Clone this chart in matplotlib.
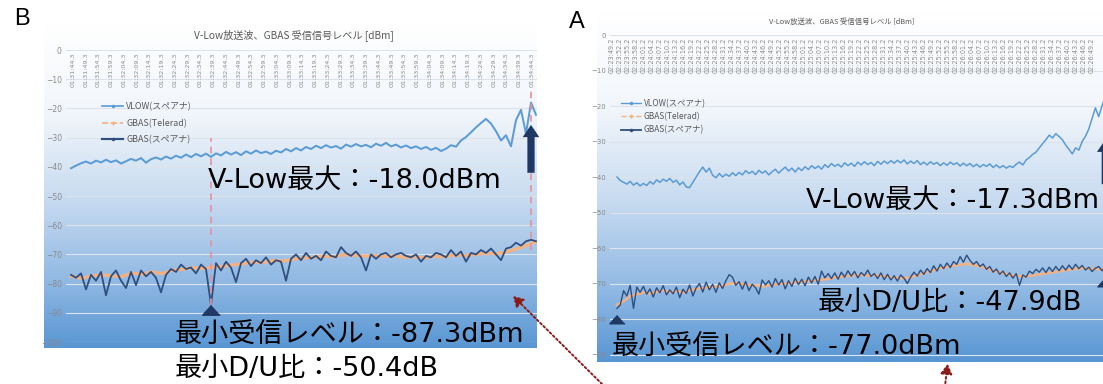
import matplotlib
matplotlib.use("Agg")
import matplotlib.pyplot as plt
import numpy as np
from matplotlib.colors import LinearSegmentedColormap
from matplotlib.lines import Line2D
from matplotlib.transforms import offset_copy

W, H = 1103, 384
JP = ["Noto Sans CJK JP", "DejaVu Sans"]
BIG = ["DejaVu Sans", "Noto Sans CJK JP"]

TITLE = "V-Low放送波、GBAS 受信信号レベル [dBm]"
SERIES_NAMES = ["VLOW(スペアナ)", "GBAS(Telerad)", "GBAS(スペアナ)"]

# ---- panel B (left) ----
b_vlow = [-40.5, -39.6, -38.8, -38.2, -38.9, -37.9, -38.5, -37.6, -38.4, -37.8,
          -38.9, -38.1, -37.3, -37.9, -37.0, -38.6, -37.4, -36.8, -37.5, -36.5,
          -37.2, -36.2, -36.9, -35.8, -36.7, -35.6, -36.4, -35.5, -36.6, -35.4,
          -36.1, -34.9, -35.8, -35.0, -36.0, -34.7, -35.5, -34.4, -35.3, -34.8,
          -35.6, -34.5, -35.1, -33.9, -34.7, -33.6, -34.4, -33.2, -33.9, -32.8,
          -33.6, -32.6, -33.4, -32.9, -33.8, -32.4, -33.1, -32.2, -33.0, -32.5,
          -33.3, -32.1, -32.8, -31.8, -33.0, -32.4, -33.4, -32.7, -33.6, -33.0,
          -33.9, -33.2, -34.2, -33.5, -34.6, -33.8, -32.6, -33.1, -31.0, -29.8,
          -28.2, -26.5, -25.0, -23.6, -25.2, -27.8, -31.0, -29.2, -33.0, -24.0,
          -20.5, -28.6, -18.0, -22.2]
b_gbas = [-77, -78, -76.5, -82, -77, -79, -76, -84, -77.5, -75.5,
          -79, -81.5, -76, -80.5, -75.5, -77.5, -76, -78, -83, -77,
          -75, -76, -73.5, -75, -74.5, -76.5, -73.5, -75, -87.3, -73,
          -75.5, -72.5, -74.5, -79.5, -73, -71.5, -74, -72, -73, -71,
          -73.5, -72, -72.5, -79, -71.5, -70, -72, -69.5, -71.5, -70.5,
          -72, -69, -70.5, -71, -67.5, -69.5, -70.5, -69, -71, -75.5,
          -70, -71.5, -70, -69.5, -71, -70, -69.5, -70.5, -71, -70,
          -72.5, -70.5, -71, -69.5, -70, -71, -68.5, -70.5, -69, -72.5,
          -69.5, -70, -68.5, -69.5, -68, -70, -72, -68, -67.5, -66,
          -67, -65.5, -65, -65.5]
b_tele = [-77.5, -78.2, -77.4, -77.0, -77.3, -77.6, -76.4, -76.8, -76.0, -76.6,
          -75.4, -75.1, -74.6, -74.8, -74.4, -74.1, -73.6, -73.2, -72.6, -72.8,
          -72.1, -72.3, -71.6, -71.2, -71.0, -70.6, -70.8, -70.1, -70.3, -70.6,
          -70.4, -70.7, -70.5, -71.0, -70.8, -71.2, -70.6, -70.8, -70.2, -70.4,
          -70.0, -69.6, -69.8, -69.2, -68.2, -67.0, -65.6]
b_times = ["01:31:44.3", "01:31:49.3", "01:31:54.3", "01:31:59.3", "01:32:04.3",
           "01:32:09.3", "01:32:14.3", "01:32:19.3", "01:32:24.3", "01:32:29.3",
           "01:32:34.3", "01:32:39.3", "01:32:44.3", "01:32:49.3", "01:32:54.3",
           "01:32:59.3", "01:33:04.3", "01:33:09.3", "01:33:14.3", "01:33:19.3",
           "01:33:24.3", "01:33:29.3", "01:33:34.3", "01:33:39.3", "01:33:44.3",
           "01:33:49.3", "01:33:54.3", "01:33:59.3", "01:34:04.3", "01:34:09.3",
           "01:34:14.3", "01:34:19.3", "01:34:24.3", "01:34:29.3", "01:34:34.3",
           "01:34:39.3", "01:34:44.3"]
b_notes = ["V-Low最大：-18.0dBm", "最小受信レベル：-87.3dBm", "最小D/U比：-50.4dB"]

# ---- panel A (right, cut off by the slide edge) ----
a_vlow = [-40, -41, -41.5, -42, -41.2, -42.3, -41.6, -42.5, -41.8, -42.4,
          -41.3, -42, -40.8, -41.5, -40.6, -41.2, -40.4, -41.5, -40.9, -42.2,
          -41.4, -42.8, -43, -41.5, -40, -38.5, -37.2, -38.6, -37.5, -39.5,
          -40.2, -39, -40, -39.2, -39.8, -38.8, -39.6, -38.7, -39.4, -38.2,
          -39, -38.4, -39.3, -38.1, -38.9, -38.3, -39.4, -38.5, -37.8, -38.9,
          -38, -37.2, -38.3, -37.5, -38.6, -37.4, -38.2, -37.1, -37.9, -36.8,
          -37.6, -36.9, -37.8, -36.5, -37.3, -36.2, -37, -36.4, -37.2, -36,
          -36.8, -36.1, -37, -35.8, -36.6, -35.7, -36.5, -35.9, -36.8, -35.6,
          -36.4, -35.5, -36.2, -35.4, -36.1, -35.3, -36, -35.2, -36.3, -35.5,
          -36.2, -35.4, -36.5, -35.8, -36.6, -35.7, -36.4, -35.9, -36.8, -36,
          -36.7, -35.8, -36.5, -36, -36.9, -36.1, -36.8, -36.2, -37.1, -36.4,
          -37.2, -36.5, -37, -36.3, -37.3, -36.6, -37.4, -36.8, -37.5, -36.9,
          -37.3, -36.4, -35.8, -36.6, -35.2, -34.5, -33.6, -33, -31.8, -30.6,
          -29.5, -28.2, -29, -27.8, -28.6, -29.5, -31, -32.2, -33.5, -31.8,
          -32.4, -30, -28.5, -26.5, -23.5, -20.5, -23, -20, -17.3, -21]
a_gbas = [-77, -76, -72, -73.5, -70.5, -77, -71, -72.5, -70.8, -73,
          -71.5, -73.8, -71.2, -72.6, -70.6, -73.2, -71.8, -72.9, -71, -74,
          -71.6, -72.8, -70.4, -73.5, -71.2, -70, -72.4, -69.6, -71.8, -70.2,
          -72.5, -69.8, -71.4, -69.2, -67.5, -68.2, -70.5, -69.5, -71.6, -69.4,
          -72, -70.2, -71.2, -73, -69, -70.4, -69.2, -71, -68.6, -70.4,
          -68.9, -71.5, -69.2, -70.8, -68.5, -70.3, -68.8, -70.6, -68.2, -69.8,
          -68, -70.2, -66.5, -68.4, -67.2, -68.6, -67, -68.8, -66.8, -68.2,
          -66.4, -67.9, -66.6, -68.4, -66.9, -67.8, -66.2, -68, -67.2, -68.6,
          -67, -68.9, -67.4, -69, -67.8, -69.3, -67.6, -68.5, -70, -68.2,
          -66.8, -67.9, -66.2, -67.4, -65.8, -66.9, -65, -66.5, -64.6, -65.8,
          -64.2, -65.5, -63.8, -64.6, -62.4, -64, -62, -63.5, -64.6, -63.8,
          -65.2, -64.5, -66, -65.2, -66.8, -65.9, -67.4, -66.5, -68, -67,
          -68.5, -67.2, -70.5, -67.6, -68.2, -66.5, -67.2, -66, -66.8, -65.6,
          -66.9, -65.4, -66.6, -65.2, -66.4, -65, -66.2, -64.8, -66, -64.6,
          -65.8, -64.9, -66.2, -65.4, -66.6, -65.7, -65.2, -66.4, -65.2, -66.0]
a_tele = [-76, -75, -73.5, -73, -72.5, -72.8, -72.3, -72, -72.4, -72.1,
          -72.6, -71.8, -71.5, -71.2, -71, -70.8, -70.6, -70, -69.8, -70.2,
          -70.4, -70.6, -70.8, -70.5, -70.2, -70, -69.9, -69.6, -69.5, -69.3,
          -69.1, -68.9, -68.6, -68.2, -68, -67.8, -67.6, -67.6, -67.8, -67.6,
          -67.9, -68.1, -68.4, -68.5, -68.3, -67.8, -67.2, -66.6, -66, -65.6,
          -65.2, -64.9, -64.6, -64.5, -64.9, -65.4, -66, -66.6, -67, -67.5,
          -67.8, -68, -67.9, -67.6, -67.3, -67, -66.7, -66.4, -66.1, -65.9,
          -65.7, -65.8, -65.9, -66, -65.9]
a_times = ["02:23:49.2", "02:23:52.2", "02:23:55.2", "02:23:58.2", "02:24:01.2",
           "02:24:04.2", "02:24:07.2", "02:24:10.2", "02:24:13.2", "02:24:16.2",
           "02:24:19.2", "02:24:22.2", "02:24:25.2", "02:24:28.2", "02:24:31.2",
           "02:24:34.2", "02:24:37.2", "02:24:40.2", "02:24:43.2", "02:24:46.2",
           "02:24:49.2", "02:24:52.2", "02:24:55.2", "02:24:58.2", "02:25:01.2",
           "02:25:04.2", "02:25:07.2", "02:25:10.2", "02:25:13.2", "02:25:16.2",
           "02:25:19.2", "02:25:22.2", "02:25:25.2", "02:25:28.2", "02:25:31.2",
           "02:25:34.2", "02:25:37.2", "02:25:40.2", "02:25:43.2", "02:25:46.2",
           "02:25:49.2", "02:25:52.2", "02:25:55.2", "02:25:58.2", "02:26:01.2",
           "02:26:04.2", "02:26:07.2", "02:26:10.2", "02:26:13.2", "02:26:16.2",
           "02:26:19.2", "02:26:22.2", "02:26:25.2", "02:26:28.2", "02:26:31.2",
           "02:26:34.2", "02:26:37.2", "02:26:40.2", "02:26:43.2", "02:26:46.2",
           "02:26:49.2"]
a_notes = ["V-Low最大：-17.3dBm", "最小D/U比：-47.9dB", "最小受信レベル：-77.0dBm"]

C_VLOW = "#5b9bd5"
C_TELE = "#f4b183"
C_GBAS = "#2f4f7f"
NAVY = "#1f3864"
GRID = "#dde3ea"

grad = LinearSegmentedColormap.from_list(
    "chartbg", [(0, "#ffffff"), (0.28, "#f2f6fb"), (0.55, "#c6daf0"),
                (0.8, "#8fb8e3"), (1, "#5896d3")])

fig = plt.figure(figsize=(W / 100, H / 100), dpi=100)
fig.patch.set_facecolor("white")


def rect(x0, y0, x1, y1):
    return [x0 / W, 1 - y1 / H, (x1 - x0) / W, (y1 - y0) / H]


# tri marker with its apex on the point
tri = [(0, 0), (-1, -1.1), (1, -1.1)]


def panel(area, plot, xlim, ylim, vlow, tele, gbas, times, t_first, t_step,
          tick_fs, time_fs, lw):
    bg = fig.add_axes(rect(*area), zorder=0)
    bg.imshow(np.linspace(0, 1, 256).reshape(-1, 1), aspect="auto", cmap=grad,
              extent=(0, 1, 0, 1))
    bg.axis("off")

    ax = fig.add_axes(rect(*plot), zorder=1)
    ax.patch.set_alpha(0)
    for s in ax.spines.values():
        s.set_visible(False)
    ax.set_xticks([])
    ax.set_yticks(range(0, -101, -10))
    ax.set_xlim(*xlim)
    ax.set_ylim(*ylim)
    ax.tick_params(axis="y", length=0, labelsize=tick_fs, labelcolor="#8a8a8a", pad=3)
    ax.grid(axis="y", color=GRID, lw=0.8)
    ax.set_axisbelow(True)

    n = len(vlow)
    x = np.arange(n)
    ax.plot(np.linspace(0, n - 1, len(tele)), tele, color=C_TELE, lw=lw * 1.8, zorder=2)
    ax.plot(x, gbas, color=C_GBAS, lw=lw, zorder=3)
    ax.plot(x, vlow, color=C_VLOW, lw=lw * 1.1, zorder=3)

    for k, lab in enumerate(times):
        ax.text(t_first + k * t_step, -0.8, lab, rotation=90, ha="center", va="top",
                fontsize=time_fs, color="#8c8c8c", clip_on=False, zorder=4)
    return ax


def legend(ax, x, y, fs, lw, spacing):
    handles = [Line2D([], [], color=C_VLOW, lw=lw, marker="o", ms=1.5),
               Line2D([], [], color=C_TELE, lw=lw, ls="--", marker="+", ms=2.5),
               Line2D([], [], color=C_GBAS, lw=lw * 1.3, marker="o", ms=1.5)]
    leg = ax.legend(handles, SERIES_NAMES, loc="upper left",
                    bbox_to_anchor=(x / W, 1 - y / H), bbox_transform=fig.transFigure,
                    frameon=False, prop={"family": JP, "size": fs}, handlelength=2.4,
                    handletextpad=0.3, labelspacing=spacing, borderpad=0, borderaxespad=0)
    for t in leg.get_texts():
        t.set_color("#595959")


# panel B: samples every 5 px starting at x=71
axb = panel((44, 22, 537, 348), (66, 50, 537, 342), (-1, 93.2), (-100, 0),
            b_vlow, b_tele, b_gbas, b_times, 0.4, 2.55, 5.5, 4.6, 1.3)
legend(axb, 102, 102, 6.4, 1.2, 0.85)

# panel A: samples every 3.3 px starting at x=617, chart runs past the slide edge
axa = panel((597, 10, 1165, 362), (610, 35, 1165, 362), (-2.12, 166.1), (-92.1, 0),
            a_vlow, a_tele, a_gbas, a_times, -1.5, 2.424, 5.0, 4.7, 1.0)
legend(axa, 621, 99, 6.0, 1.0, 0.5)

# --- annotations on panel B ---
ib_min = int(np.argmin(b_gbas))
ib_max = int(np.argmax(b_vlow))
axb.vlines(ib_min, b_gbas[ib_min], b_vlow[ib_min] + 6.5, colors="#e8909a",
           linestyles=(0, (4, 3)), lw=1.2, zorder=5)
axb.vlines(ib_max, b_gbas[ib_max] - 3.5, b_vlow[ib_max] + 5.5, colors="#e8909a",
           linestyles=(0, (4, 3)), lw=1.2, zorder=5)
axb.plot(ib_min, b_gbas[ib_min], marker=tri, ms=14, color=NAVY, zorder=6, clip_on=False)
axb.annotate("", xy=(ib_max, b_vlow[ib_max] - 6.7), xytext=(ib_max, b_vlow[ib_max] - 25),
             arrowprops=dict(arrowstyle="simple,head_width=1.5,head_length=1.1,tail_width=0.65",
                             mutation_scale=8, color=NAVY, lw=0), zorder=6)

# --- annotations on panel A ---
ia_min = int(np.argmin(a_gbas))
ia_max = int(np.argmax(a_vlow))
low = offset_copy(axa.transData, fig=fig, y=-7, units="dots")
axa.plot(ia_min, a_gbas[ia_min], marker=tri, ms=12, color=NAVY, zorder=6,
         transform=low, clip_on=False)
low2 = offset_copy(axa.transData, fig=fig, y=-12, units="dots")
axa.plot(ia_max, a_gbas[ia_max], marker=tri, ms=12, color=NAVY, zorder=6,
         transform=low2, clip_on=False)
axa.annotate("", xy=(ia_max, a_vlow[ia_max] - 11.4), xytext=(ia_max, a_vlow[ia_max] - 25.5),
             arrowprops=dict(arrowstyle="simple,head_width=1.5,head_length=1.1,tail_width=0.65",
                             mutation_scale=8, color=NAVY, lw=0), zorder=6)

# --- slide overlay: titles, labels, callouts ---
page = fig.add_axes([0, 0, 1, 1], zorder=10)
page.set_xlim(0, W)
page.set_ylim(H, 0)
page.axis("off")
page.patch.set_alpha(0)

page.text(22, 19, "B", fontsize=17, family="Liberation Sans", ha="center", va="center")
page.text(577, 22, "A", fontsize=17, family="Liberation Sans", ha="center", va="center")
page.text(294, 35, TITLE, fontsize=7.3, family=JP, color="#595959", ha="center", va="center")
page.text(842, 22, TITLE, fontsize=5.3, family=JP, color="#595959", ha="center", va="center")

page.text(208, 181, b_notes[0], fontsize=19.5, family=BIG, ha="left", va="center")
page.text(175, 335, b_notes[1], fontsize=19.5, family=BIG, ha="left", va="center")
page.text(175, 369, b_notes[2], fontsize=19.5, family=BIG, ha="left", va="center")
page.text(806, 201, a_notes[0], fontsize=19.5, family=BIG, ha="left", va="center")
page.text(818, 303, a_notes[1], fontsize=19.5, family=BIG, ha="left", va="center")
page.text(612, 347, a_notes[2], fontsize=19.5, family=BIG, ha="left", va="center")

red = "#8b1a1a"
page.annotate("", xy=(511, 294), xytext=(604, 386),
              arrowprops=dict(arrowstyle="-|>,head_width=0.35,head_length=0.6", color=red,
                              lw=1.4, linestyle=(0, (1, 1.3)), mutation_scale=10))
page.annotate("", xy=(948, 361), xytext=(945, 386),
              arrowprops=dict(arrowstyle="-|>,head_width=0.35,head_length=0.6", color=red,
                              lw=1.4, linestyle=(0, (1, 1.3)), mutation_scale=10))

fig.savefig("out.png", dpi=100, facecolor="white")
